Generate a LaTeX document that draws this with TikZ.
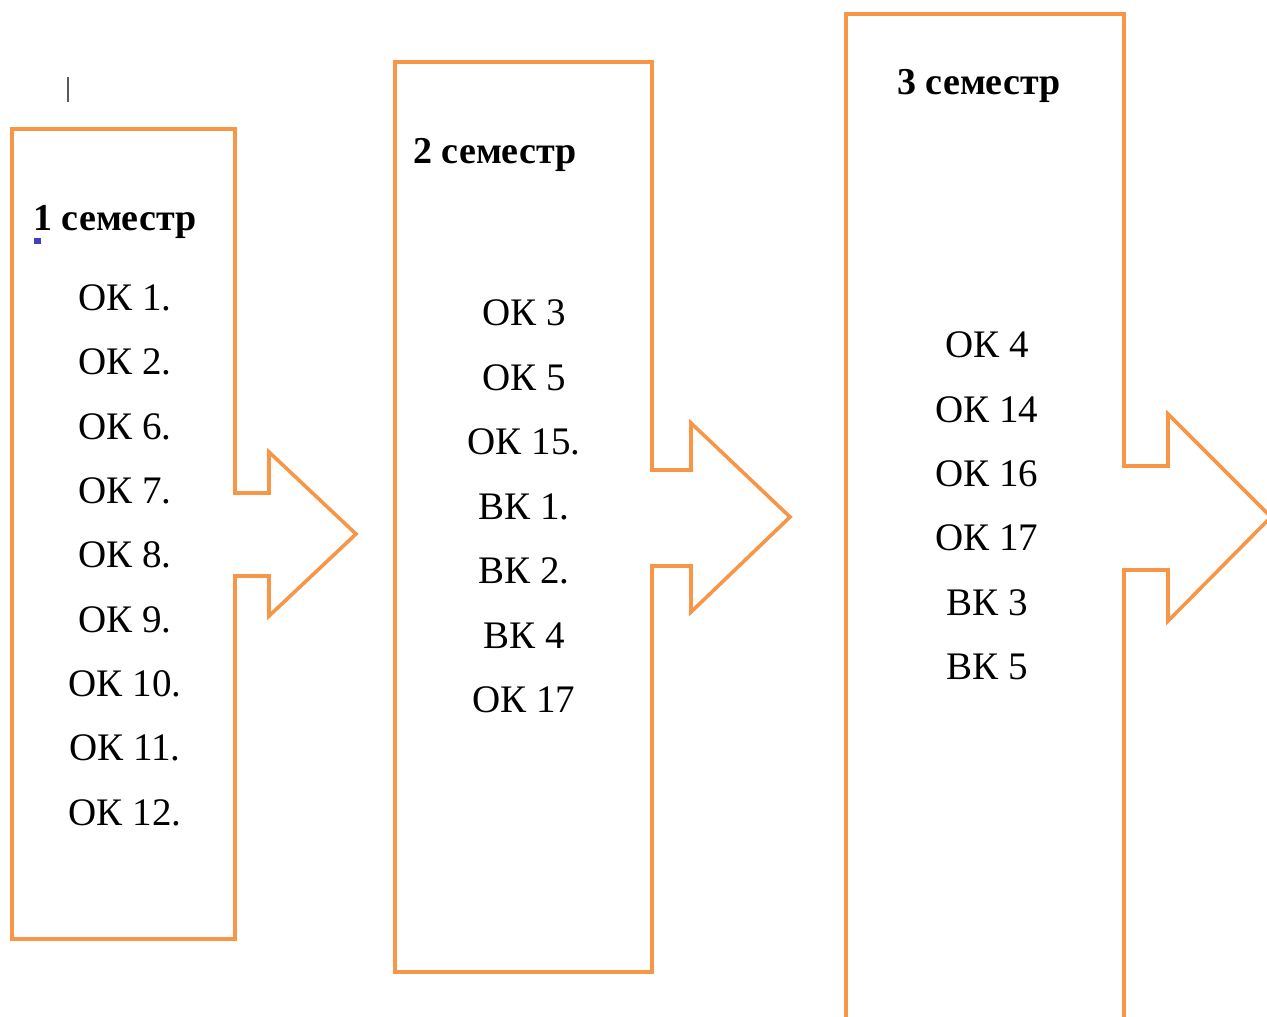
\documentclass[tikz,border=0pt]{standalone}
\usepackage{fontspec}
\setmainfont{Liberation Serif}
\usepackage{xcolor}
\usepackage{tikz}
\usetikzlibrary{arrows.meta}

\definecolor{semorange}{RGB}{247,150,70}

\begin{document}
\begin{tikzpicture}[x=0.5pt, y=-0.5pt,
    semshape/.style={draw=semorange, line width=1.8pt, line join=miter},
    semtitle/.style={font=\bfseries\fontsize{19}{22}\selectfont, anchor=base west, inner sep=0pt},
    semitem/.style={font=\fontsize{19.5}{22}\selectfont}]
    \useasboundingbox (0,0) rectangle (1267,1016);
    \clip (0,0) rectangle (1267,1016);

    % semester 1
    \draw[semshape] (12,129) -- (235,129) -- (235,493) -- (269,493) -- (269,452) -- (356,534)
        -- (269,616) -- (269,576) -- (235,576) -- (235,939) -- (12,939) -- cycle;
    \node[semtitle] (T1) at (33,230) {1 семестр};
    \foreach \t [count=\i] in {ОК 1., ОК 2., ОК 6., ОК 7., ОК 8., ОК 9., ОК 10., ОК 11., ОК 12.}
        \node[semitem] (A\i) at (125, 298+64.3*\i-64.3) {\t};

    % semester 2
    \draw[semshape] (395,62) -- (652,62) -- (652,470) -- (691,470) -- (691,423) -- (790,517)
        -- (691,612) -- (691,566) -- (652,566) -- (652,972) -- (395,972) -- cycle;
    \node[semtitle] (T2) at (413,164) {2 семестр};
    \foreach \t [count=\i] in {ОК 3, ОК 5, ОК 15., ВК 1., ВК 2., ВК 4, ОК 17}
        \node[semitem] (B\i) at (524, 313+64.5*\i-64.5) {\t};

    % semester 3
    \draw[semshape] (846,14) -- (1124,14) -- (1124,466) -- (1168,466) -- (1168,414) -- (1271,517)
        -- (1168,621) -- (1168,570) -- (1124,570) -- (1124,1040) -- (846,1040) -- cycle;
    \node[semtitle] (T3) at (897,95) {3 семестр};
    \foreach \t [count=\i] in {ОК 4, ОК 14, ОК 16, ОК 17, ВК 3, ВК 5}
        \node[semitem] (C\i) at (987, 345+64.4*\i-64.4) {\t};

    % cursor and anchor marks
    \draw[gray!70!black, line width=1.1pt] (68,77) -- (68,102);
    \fill[blue!50!gray] (34,238) rectangle (41,244);

\end{tikzpicture}
\end{document}
